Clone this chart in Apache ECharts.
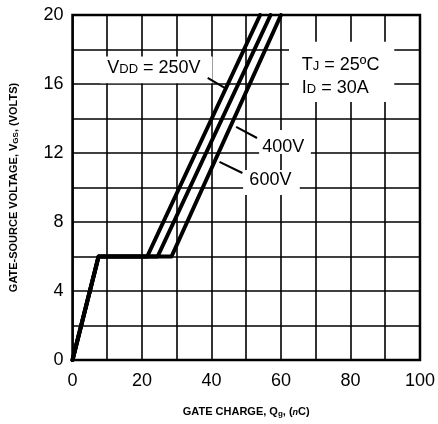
<!DOCTYPE html>
<html>
<head>
<meta charset="utf-8">
<script src="https://cdn.jsdelivr.net/npm/echarts@6/dist/echarts.min.js"></script>
<style>
  html, body { margin: 0; padding: 0; background: #fff; }
  #chart { width: 438px; height: 424px; }
</style>
</head>
<body>
<div id="chart"></div>
<script>
// Gate charge curves: gate-source voltage vs. total gate charge for three drain supply voltages
const seriesNames = ['VDD = 250V', 'VDD = 400V', 'VDD = 600V'];
const charge250 = [0, 7.5, 21.5, 54];
const volts250  = [0, 6, 6, 20];
const charge400 = [0, 7.5, 24.5, 57];
const volts400  = [0, 6, 6, 20];
const charge600 = [0, 7.5, 28.5, 60];
const volts600  = [0, 6, 6, 20];

const xTickLabels = ['0', '20', '40', '60', '80', '100'];
const yTickLabels = ['0', '4', '8', '12', '16', '20'];

const FONT = '"Liberation Sans", Arial, Helvetica, sans-serif';

function pairs(xs, ys) { return xs.map((x, i) => [x, ys[i]]); }

const chart = echarts.init(document.getElementById('chart'), null, { renderer: 'canvas' });

const lineSeries = (name, xs, ys) => ({
  name: name,
  type: 'line',
  data: pairs(xs, ys),
  showSymbol: false,
  symbol: 'none',
  lineStyle: { color: '#000', width: 4, join: 'round', cap: 'round' },
  z: 3,
  silent: true
});

chart.setOption({
  animation: false,
  backgroundColor: '#fff',
  grid: {
    left: 72, right: 16, top: 15, bottom: 64,
    show: true, borderColor: '#000', borderWidth: 2.5, backgroundColor: '#fff'
  },
  xAxis: {
    type: 'value', min: 0, max: 100, interval: 10,
    axisLine: { show: false }, axisTick: { show: false },
    splitLine: { show: true, lineStyle: { color: '#000', width: 1.6 } },
    axisLabel: {
      margin: 12, color: '#000', fontFamily: FONT, fontSize: 18,
      formatter: v => (xTickLabels.indexOf(String(v)) >= 0 ? String(v) : '')
    },
    name: '{b|GATE CHARGE, Q}{s|g}{b|, (}{i|n}{b|C)}',
    nameLocation: 'middle', nameGap: 45,
    nameTextStyle: {
      rich: {
        b: { fontFamily: FONT, fontSize: 11, fontWeight: 'bold', color: '#000' },
        s: { fontFamily: FONT, fontSize: 8, fontWeight: 'bold', color: '#000', padding: [5, 0, 0, 0] },
        i: { fontFamily: FONT, fontSize: 9, fontWeight: 'bold', fontStyle: 'italic', color: '#000', padding: [2, 0, 0, 0] }
      }
    }
  },
  yAxis: {
    type: 'value', min: 0, max: 20, interval: 2,
    axisLine: { show: false }, axisTick: { show: false },
    splitLine: { show: true, lineStyle: { color: '#000', width: 1.6 } },
    axisLabel: {
      margin: 9, color: '#000', fontFamily: FONT, fontSize: 18,
      formatter: v => (yTickLabels.indexOf(String(v)) >= 0 ? String(v) : '')
    },
    name: '{b|GATE-SOURCE VOLTAGE, V}{s|GS}{b|, (VOLTS)}',
    nameLocation: 'middle', nameGap: 53,
    nameTextStyle: {
      rich: {
        b: { fontFamily: FONT, fontSize: 11, fontWeight: 'bold', color: '#000' },
        s: { fontFamily: FONT, fontSize: 8, fontWeight: 'bold', color: '#000', padding: [4, 0, 0, 0] }
      }
    }
  },
  series: [
    lineSeries(seriesNames[0], charge250, volts250),
    lineSeries(seriesNames[1], charge400, volts400),
    lineSeries(seriesNames[2], charge600, volts600)
  ]
});

// Annotation callouts, placed in axis units
const labelRich = {
  n: { fontFamily: FONT, fontSize: 18, color: '#000' },
  s: { fontFamily: FONT, fontSize: 13, color: '#000', padding: [3, 0, 0, 0] }
};
const boxes = [
  [8, 17.6, 40.3, 16.05],
  [62.3, 18.45, 92.6, 14.95],
  [53.7, 13.33, 68.6, 11.94],
  [49.1, 11.01, 65.4, 9.57]
];
const leaders = [
  [38.9, 16.35, 43.8, 15.77],
  [47.1, 13.51, 53.1, 12.87],
  [42.3, 11.48, 48.9, 10.84]
];
const texts = [
  [10, 16.93, '{n|V}{s|DD}{n| = 250V}'],
  [66, 17.1, '{n|T}{s|J}{n| = 25ºC}'],
  [66, 15.77, '{n|I}{s|D}{n| = 30A}'],
  [54.6, 12.35, '{n|400V}'],
  [50.9, 10.43, '{n|600V}']
];

const px = (x, y) => chart.convertToPixel({ gridIndex: 0 }, [x, y]);
const graphics = [];
boxes.forEach(b => {
  const p1 = px(b[0], b[1]), p2 = px(b[2], b[3]);
  graphics.push({
    type: 'rect', z: 10, silent: true,
    shape: { x: p1[0], y: p1[1], width: p2[0] - p1[0], height: p2[1] - p1[1] },
    style: { fill: '#fff' }
  });
});
leaders.forEach(l => {
  const p1 = px(l[0], l[1]), p2 = px(l[2], l[3]);
  graphics.push({
    type: 'line', z: 11, silent: true,
    shape: { x1: p1[0], y1: p1[1], x2: p2[0], y2: p2[1] },
    style: { stroke: '#000', lineWidth: 2 }
  });
});
texts.forEach(t => {
  const p = px(t[0], t[1]);
  graphics.push({
    type: 'text', z: 12, silent: true, x: p[0], y: p[1],
    style: { text: t[2], rich: labelRich, align: 'left', verticalAlign: 'middle', fill: '#000' }
  });
});
chart.setOption({ graphic: graphics });
</script>
</body>
</html>
